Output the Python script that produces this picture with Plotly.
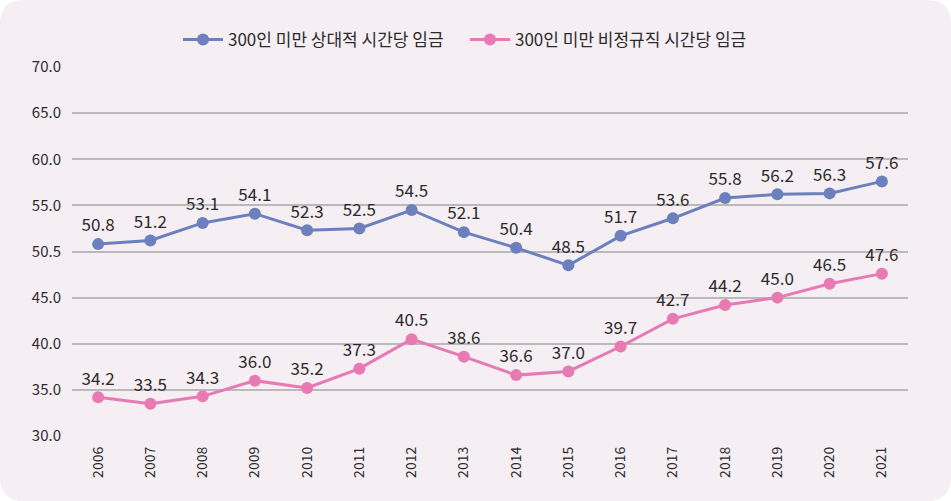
import plotly.graph_objects as go

years = ["2006", "2007", "2008", "2009", "2010", "2011", "2012", "2013",
         "2014", "2015", "2016", "2017", "2018", "2019", "2020", "2021"]
relative_wage = [50.8, 51.2, 53.1, 54.1, 52.3, 52.5, 54.5, 52.1,
                 50.4, 48.5, 51.7, 53.6, 55.8, 56.2, 56.3, 57.6]
irregular_wage = [34.2, 33.5, 34.3, 36.0, 35.2, 37.3, 40.5, 38.6,
                  36.6, 37.0, 39.7, 42.7, 44.2, 45.0, 46.5, 47.6]
series_names = ["300인 미만 상대적 시간당 임금", "300인 미만 비정규직 시간당 임금"]
y_tick_vals = [30, 35, 40, 45, 50, 55, 60, 65, 70]
y_tick_text = ["30.0", "35.0", "40.0", "45.0", "50.5", "55.0", "60.0", "65.0", "70.0"]

W, H = 951, 501
ML, MR, MT, MB = 72, 43, 67, 65
PW, PH = W - ML - MR, H - MT - MB
BG = "#f5eef3"
BLUE = "#6b80bd"
PINK = "#e77ab3"
FONT = "Noto Sans CJK KR"
TXT = "#2b2b2b"


def px(x):
    return (x - ML) / PW


def py(y):
    return (H - MB - y) / PH


def rounded_rect(x0, y0, x1, y1, r):
    pts = [
        f"M {px(x0 + r)},{py(y0)}",
        f"L {px(x1 - r)},{py(y0)}",
        f"Q {px(x1)},{py(y0)} {px(x1)},{py(y0 + r)}",
        f"L {px(x1)},{py(y1 - r)}",
        f"Q {px(x1)},{py(y1)} {px(x1 - r)},{py(y1)}",
        f"L {px(x0 + r)},{py(y1)}",
        f"Q {px(x0)},{py(y1)} {px(x0)},{py(y1 - r)}",
        f"L {px(x0)},{py(y0 + r)}",
        f"Q {px(x0)},{py(y0)} {px(x0 + r)},{py(y0)}",
        "Z",
    ]
    return " ".join(pts)


fig = go.Figure()
for name, vals, col in [(series_names[0], relative_wage, BLUE),
                        (series_names[1], irregular_wage, PINK)]:
    fig.add_trace(go.Scatter(
        x=years, y=vals, name=name, mode="lines+markers+text",
        line=dict(color=col, width=3),
        marker=dict(color=col, size=12),
        text=[f"{v:.1f}" for v in vals],
        textposition="top center",
        textfont=dict(family=FONT, size=17, color=TXT),
        cliponaxis=False,
    ))

fig.add_shape(type="path", xref="paper", yref="paper",
              path=rounded_rect(0, 0, W, H, 24),
              fillcolor=BG, line=dict(width=0), layer="below")

fig.update_layout(
    width=W, height=H,
    margin=dict(l=ML, r=MR, t=MT, b=MB),
    paper_bgcolor="white",
    plot_bgcolor="rgba(0,0,0,0)",
    font=dict(family=FONT, color=TXT),
    showlegend=True,
    legend=dict(orientation="h", x=px(465), xanchor="center",
                y=py(40), yanchor="middle",
                font=dict(family=FONT, size=17, color=TXT),
                bgcolor="rgba(0,0,0,0)", itemwidth=40,
                entrywidth=232, entrywidthmode="pixels",
                traceorder="normal"),
    xaxis=dict(type="category", range=[-0.5, len(years) - 0.5],
               showgrid=False, zeroline=False,
               showline=False, tickangle=-90,
               tickfont=dict(family=FONT, size=14, color=TXT),
               ticks="", ticklabelstandoff=7),
    yaxis=dict(range=[30, 70], tickvals=y_tick_vals, ticktext=y_tick_text,
               showgrid=True, gridcolor="#bababa", gridwidth=1.5,
               zeroline=False, showline=False, ticks="",
               tickfont=dict(family=FONT, size=15, color=TXT),
               ticklabelstandoff=10),
)

fig.write_html(
    "out.html",
    config={"displayModeBar": False},
    post_script="document.body.style.margin='0';document.body.style.padding='0';",
)
